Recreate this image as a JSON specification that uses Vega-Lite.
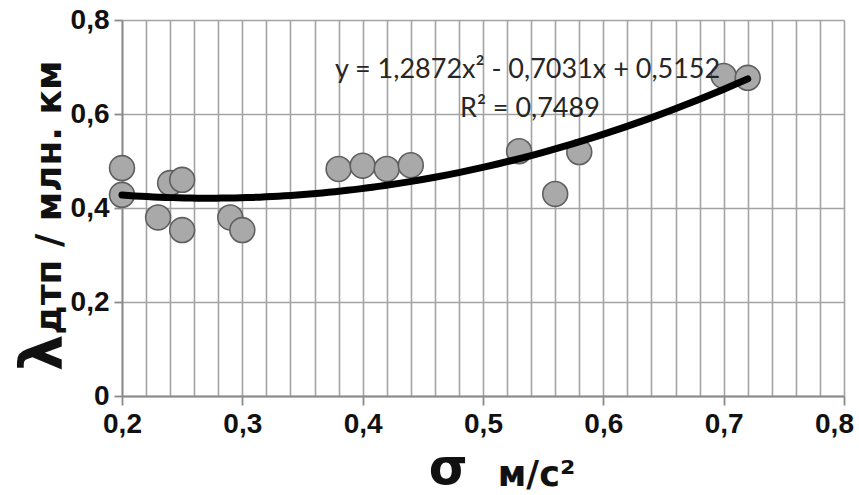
{
  "$schema": "https://vega.github.io/schema/vega-lite/v6.json",
  "width": 722,
  "height": 376,
  "autosize": {"type": "none"},
  "padding": {"left": 122, "top": 20, "right": 15, "bottom": 99},
  "background": "white",
  "config": {"view": {"stroke": null}},
  "datasets": {
    "points": [
      {"sigma": 0.2, "lambda": 0.485},
      {"sigma": 0.2, "lambda": 0.428},
      {"sigma": 0.24, "lambda": 0.453},
      {"sigma": 0.25, "lambda": 0.46},
      {"sigma": 0.23, "lambda": 0.38},
      {"sigma": 0.25, "lambda": 0.353},
      {"sigma": 0.29, "lambda": 0.38},
      {"sigma": 0.3, "lambda": 0.353},
      {"sigma": 0.38, "lambda": 0.483},
      {"sigma": 0.4, "lambda": 0.49},
      {"sigma": 0.42, "lambda": 0.483},
      {"sigma": 0.44, "lambda": 0.491},
      {"sigma": 0.53, "lambda": 0.521},
      {"sigma": 0.56, "lambda": 0.43},
      {"sigma": 0.58, "lambda": 0.519},
      {"sigma": 0.7, "lambda": 0.681},
      {"sigma": 0.72, "lambda": 0.677}
    ]
  },
  "layer": [
    {
      "data": {"name": "points"},
      "mark": {"type": "point", "shape": "circle", "filled": true, "size": 620, "fill": "#a9a9a9", "stroke": "#5f5f5f", "strokeWidth": 1.6, "opacity": 1},
      "encoding": {
        "x": {
          "field": "sigma", "type": "quantitative",
          "scale": {"domain": [0.2, 0.8], "nice": false, "zero": false},
          "axis": {
            "values": [0.2, 0.22, 0.24, 0.26, 0.28, 0.3, 0.32, 0.34, 0.36, 0.38, 0.4, 0.42, 0.44, 0.46, 0.48, 0.5, 0.52, 0.54, 0.56, 0.58, 0.6, 0.62, 0.64, 0.66, 0.68, 0.7, 0.72, 0.74, 0.76, 0.78, 0.8],
            "tickCount": 60,
            "grid": true, "gridColor": "#a3a3a3", "gridWidth": 1.6,
            "domainColor": "#8a8a8a", "domainWidth": 1.8,
            "tickColor": "#8a8a8a", "tickWidth": 1.8, "tickSize": 9,
            "tickOpacity": {"condition": {"test": "abs(datum.value*10 - round(datum.value*10)) < 0.001", "value": 1}, "value": 0},
            "labelExpr": "abs(datum.value*10 - round(datum.value*10)) < 0.001 ? replace(format(datum.value, '.1f'), '.', ',') : ''",
            "labelOffset": {"condition": {"test": "datum.value > 0.79", "value": -10}, "value": 0},
            "labelOverlap": false, "labelBound": false, "labelFlush": false,
            "labelFont": "Liberation Sans", "labelFontWeight": "bold", "labelFontSize": 28, "labelColor": "#111111",
            "labelPadding": 5,
            "title": "м/с²", "titleFont": "DejaVu Sans", "titleFontWeight": "bold", "titleFontSize": 35, "titleColor": "#111111",
            "titleX": 414, "titleY": 89, "titleAlign": "center", "titleBaseline": "alphabetic", "titleAnchor": null
          }
        },
        "y": {
          "field": "lambda", "type": "quantitative",
          "scale": {"domain": [0, 0.8], "nice": false},
          "axis": {
            "values": [0, 0.2, 0.4, 0.6, 0.8],
            "grid": true, "gridColor": "#a3a3a3", "gridWidth": 1.6,
            "domainColor": "#8a8a8a", "domainWidth": 1.8,
            "tickColor": "#8a8a8a", "tickWidth": 1.8, "tickSize": 8,
            "labelExpr": "datum.value == 0 ? '0' : replace(format(datum.value, '.1f'), '.', ',')",
            "labelOverlap": false, "labelBound": false, "labelFlush": false,
            "labelFont": "Liberation Sans", "labelFontWeight": "bold", "labelFontSize": 28, "labelColor": "#111111",
            "labelPadding": 5,
            "title": "дтп / млн. км", "titleFont": "DejaVu Sans", "titleFontWeight": "bold", "titleFontSize": 36, "titleColor": "#111111",
            "titleAngle": 270, "titleX": -62, "titleY": 177, "titleAlign": "center", "titleBaseline": "alphabetic", "titleAnchor": null
          }
        }
      }
    },
    {
      "data": {"name": "points"},
      "transform": [
        {"regression": "lambda", "on": "sigma", "method": "poly", "order": 2, "extent": [0.2, 0.72]}
      ],
      "mark": {"type": "line", "color": "#000000", "strokeWidth": 7, "strokeCap": "round"},
      "encoding": {
        "x": {"field": "sigma", "type": "quantitative"},
        "y": {"field": "lambda", "type": "quantitative"}
      }
    },
    {
      "data": {"values": [
        {"x": 0.537, "y": 0.677, "label": "y = 1,2872x² - 0,7031x + 0,5152"},
        {"x": 0.539, "y": 0.594, "label": "R² = 0,7489"}
      ]},
      "mark": {"type": "text", "align": "center", "baseline": "alphabetic", "font": "Lato", "fontSize": 27, "color": "#262626"},
      "encoding": {
        "x": {"field": "x", "type": "quantitative"},
        "y": {"field": "y", "type": "quantitative"},
        "text": {"field": "label"}
      }
    },
    {
      "data": {"values": [{"x": 0.471, "y": -0.187, "label": "σ"}]},
      "mark": {"type": "text", "align": "center", "baseline": "alphabetic", "font": "DejaVu Sans", "fontWeight": "bold", "fontSize": 50, "color": "#111111"},
      "encoding": {
        "x": {"field": "x", "type": "quantitative"},
        "y": {"field": "y", "type": "quantitative"},
        "text": {"field": "label"}
      }
    },
    {
      "data": {"values": [{"x": 0.15, "y": 0.0915, "label": "λ"}]},
      "mark": {"type": "text", "align": "center", "baseline": "alphabetic", "angle": 270, "font": "DejaVu Sans", "fontWeight": "bold", "fontSize": 58, "color": "#111111"},
      "encoding": {
        "x": {"field": "x", "type": "quantitative"},
        "y": {"field": "y", "type": "quantitative"},
        "text": {"field": "label"}
      }
    }
  ]
}
